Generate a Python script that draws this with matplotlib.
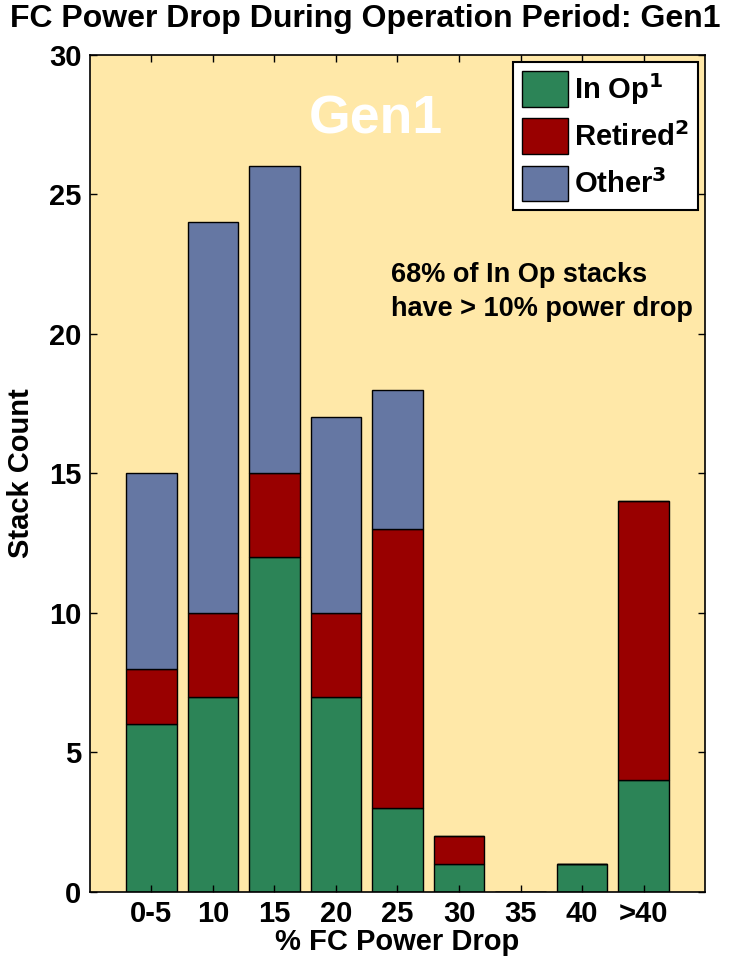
import numpy as np
import matplotlib
matplotlib.use('Agg')
import matplotlib.pyplot as plt

# Data
categories = ['0-5', '10', '15', '20', '25', '30', '35', '40', '>40']
in_op = [6, 7, 12, 7, 3, 1, 0, 1, 4]
retired = [2, 3, 3, 3, 10, 1, 0, 0, 10]
other = [7, 14, 11, 7, 5, 0, 0, 0, 0]

COLORS = {
    'in_op': '#2C8457',
    'retired': '#990000',
    'other': '#6577A3',
}
BG = '#FFE8A8'

plt.rcParams['font.family'] = ['Liberation Sans', 'DejaVu Sans']
plt.rcParams['font.weight'] = 'bold'
plt.rcParams['mathtext.default'] = 'bf'

fig = plt.figure(figsize=(7.3, 9.6), dpi=100)
ax = fig.add_axes([0.123, 0.071, 0.843, 0.872])
ax.set_facecolor(BG)

x = np.arange(1, len(categories) + 1)
in_op = np.array(in_op)
retired = np.array(retired)
other = np.array(other)

kw = dict(width=0.82, edgecolor='black', linewidth=1.0)
ax.bar(x, in_op, color=COLORS['in_op'], label='In Op$^{1}$', **kw)
ax.bar(x, retired, bottom=in_op, color=COLORS['retired'], label='Retired$^{2}$', **kw)
ax.bar(x, other, bottom=in_op + retired, color=COLORS['other'], label='Other$^{3}$', **kw)

ax.set_xlim(0, len(categories) + 1)
ax.set_ylim(0, 30)
ax.set_xticks(x)
ax.set_xticklabels(categories)
ax.set_yticks(range(0, 31, 5))
ax.tick_params(direction='in', top=True, right=True, length=5, width=1,
               labelsize=21, pad=6)
for sp in ax.spines.values():
    sp.set_linewidth(1.2)

ax.set_xlabel('% FC Power Drop', fontsize=21, fontweight='bold', labelpad=0)
ax.set_ylabel('Stack Count', fontsize=21, fontweight='bold', labelpad=10)
fig.text(0.5, 1 - 19 / 960, 'FC Power Drop During Operation Period: Gen1',
         fontsize=23, fontweight='bold', ha='center', va='center')

ax.text(0.465, 0.923, 'Gen1', transform=ax.transAxes, color='white',
        fontsize=38.5, fontweight='bold', ha='center', va='center')
ax.text(0.49, 0.717, '68% of In Op stacks\nhave > 10% power drop',
        transform=ax.transAxes, fontsize=19.5, fontweight='bold',
        ha='left', va='center', linespacing=1.4)

leg = ax.legend(loc='upper right', fontsize=21, frameon=True, fancybox=False,
                edgecolor='black', framealpha=1, handlelength=1.6,
                handleheight=1.5, borderpad=0.3, labelspacing=0.4,
                handletextpad=0.2, borderaxespad=0.25)
leg.get_frame().set_linewidth(1.5)

fig.savefig('out.png', dpi=100)
